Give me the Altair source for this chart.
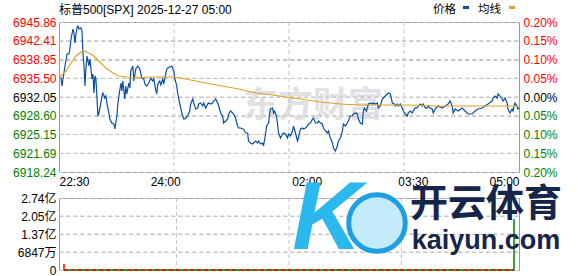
import altair as alt
import pandas as pd

FONT = "Liberation Sans, Noto Sans CJK SC"
CJK = "Noto Sans CJK SC, Liberation Sans"

title_text = "标普500[SPX] 2025-12-27 05:00"
legend_names = ["价格", "均线"]
price_color = "#0b4fa3"
avg_color = "#e0a224"
watermark_text = "东方财富"
brand_cn = "开云体育"
brand_en = "kaiyun.com"
brand_k = "K"

prev_close = 6932.05

price_min = [
    0.0, 1.7, 2.5, 3.4, 5.1, 6.8, 8.5, 9.3, 10.2, 11.8,
    12.7, 13.5, 14.4, 15.2, 16.1, 16.9, 18.6, 19.5, 20.3, 21.2,
    22.0, 22.8, 23.7, 25.4, 26.2, 27.1, 27.9, 28.8, 29.6, 30.5,
    31.3, 32.1, 33.0, 33.8, 35.5, 36.4, 37.2, 38.9, 39.8, 40.6,
    42.3, 43.1, 44.8, 46.5, 47.4, 49.1, 49.9, 50.8, 52.5, 53.3,
    54.1, 55.8, 56.7, 57.5, 59.2, 60.1, 60.9, 62.6, 63.5, 65.1,
    66.8, 68.5, 70.2, 71.9, 72.8, 74.4, 76.1, 77.8, 79.5, 80.4,
    82.1, 82.9, 83.8, 85.4, 86.3, 88.0, 88.8, 90.5, 91.4, 92.2,
    93.9, 95.6, 97.3, 98.1, 99.8, 100.7, 102.4, 103.2, 104.1, 105.8,
    106.6, 107.4, 109.1, 110.8, 111.7, 113.4, 114.2, 115.9, 117.6, 118.4,
    120.1, 121.8, 122.7, 124.4, 126.1, 126.9, 128.6, 130.3, 131.1, 132.8,
    134.5, 135.4, 137.1, 138.7, 139.6, 141.3, 143.0, 143.8, 145.5, 147.2,
    148.1, 149.7, 151.4, 152.3, 154.0, 155.7, 156.5, 158.2, 159.9, 160.7,
    162.4, 164.1, 165.0, 166.7, 168.4, 169.2, 170.9, 172.6, 173.4, 175.1,
    176.0, 177.7, 178.5, 179.4, 181.0, 181.9, 182.7, 184.4, 185.3, 186.1,
    187.8, 188.7, 189.5, 190.4, 192.0, 193.7, 194.6, 196.3, 198.0, 198.8,
    200.5, 202.2, 203.0, 204.7, 206.4, 207.3, 209.0, 210.7, 211.5, 213.2,
    214.9, 215.7, 217.4, 219.1, 220.0, 221.7, 223.3, 224.2, 225.9, 227.6,
    228.4, 230.1, 231.8, 232.7, 234.3, 236.0, 236.9, 238.6, 240.3, 241.1,
    242.8, 244.5, 245.3, 247.0, 248.7, 249.6, 251.3, 253.0, 253.8, 255.5,
    257.2, 258.0, 258.9, 260.6, 261.4, 262.3, 264.0, 265.6, 266.5, 268.2,
    269.9, 270.7, 272.4, 274.1, 275.0, 276.6, 278.3, 279.2, 280.9, 281.7,
    282.6, 284.3, 285.1, 286.8, 287.6, 289.3, 291.0, 291.9, 293.6, 295.3,
    296.1, 297.8, 299.5, 300.3, 302.0, 303.7, 304.6, 306.3, 307.9, 308.8,
    310.5, 312.2, 313.0, 314.7, 316.4, 317.3, 318.9, 321.5, 324.9, 327.4,
    329.9, 331.6, 333.3, 334.2, 335.9, 338.4, 341.8, 344.3, 346.9, 350.2,
    352.8, 355.3, 358.7, 361.2, 363.8, 367.2, 368.0, 369.7, 371.4, 372.2,
    373.9, 375.6, 376.5, 378.2, 379.9, 380.7, 382.4, 384.1, 384.9, 386.6,
    388.3, 389.2, 390.0,
]
price_val = [
    6935.55, 6935.55, 6934.08, 6935.37, 6937.76, 6939.97, 6939.97, 6941.07, 6942.73, 6944.57,
    6943.83, 6941.99, 6943.65, 6944.76, 6945.12, 6944.57, 6944.76, 6944.20, 6940.15, 6937.76,
    6934.08, 6937.21, 6939.60, 6937.76, 6939.05, 6937.21, 6935.37, 6936.29, 6932.79, 6935.92,
    6935.37, 6932.23, 6928.55, 6929.10, 6930.95, 6932.23, 6932.79, 6931.87, 6932.23, 6930.95,
    6929.10, 6928.00, 6927.26, 6927.08, 6926.16, 6928.55, 6930.76, 6932.23, 6934.63, 6933.16,
    6935.00, 6931.68, 6934.08, 6932.60, 6934.63, 6933.71, 6936.84, 6937.76, 6935.00, 6937.21,
    6937.76, 6937.21, 6935.55, 6935.37, 6934.44, 6934.08, 6934.63, 6935.55, 6935.00, 6935.37,
    6933.16, 6932.79, 6934.44, 6935.00, 6934.26, 6935.37, 6934.44, 6936.29, 6937.21, 6937.39,
    6937.57, 6937.76, 6936.84, 6935.55, 6934.08, 6932.60, 6930.76, 6930.03, 6929.10, 6928.00,
    6928.00, 6928.18, 6928.55, 6929.47, 6930.76, 6931.68, 6930.95, 6929.84, 6930.03, 6930.76,
    6930.95, 6930.39, 6930.95, 6930.03, 6930.76, 6930.95, 6930.76, 6930.95, 6931.31, 6931.68,
    6930.95, 6930.39, 6929.10, 6928.55, 6927.26, 6927.63, 6928.00, 6928.92, 6929.47, 6929.10,
    6928.92, 6928.18, 6926.71, 6926.34, 6926.34, 6926.16, 6926.16, 6925.42, 6925.42, 6923.95,
    6923.58, 6923.40, 6923.58, 6923.95, 6923.58, 6923.95, 6923.40, 6923.58, 6923.03, 6925.24,
    6926.71, 6927.26, 6928.92, 6929.84, 6930.03, 6929.10, 6929.47, 6928.55, 6927.08, 6925.42,
    6924.50, 6924.87, 6925.24, 6925.42, 6925.24, 6924.50, 6925.24, 6924.87, 6925.79, 6926.71,
    6925.42, 6923.95, 6924.50, 6926.16, 6926.34, 6926.16, 6926.34, 6926.71, 6927.08, 6927.26,
    6928.00, 6928.18, 6927.26, 6927.26, 6927.63, 6927.26, 6927.08, 6926.34, 6925.79, 6925.42,
    6925.79, 6924.50, 6923.58, 6922.66, 6922.11, 6923.03, 6923.95, 6924.50, 6925.79, 6927.08,
    6926.71, 6927.26, 6927.63, 6928.55, 6928.55, 6928.92, 6929.10, 6928.92, 6928.00, 6927.26,
    6927.08, 6929.47, 6930.03, 6929.47, 6930.03, 6930.76, 6930.95, 6930.76, 6930.95, 6930.76,
    6930.95, 6930.03, 6930.39, 6931.68, 6931.87, 6932.23, 6932.60, 6932.79, 6932.60, 6931.87,
    6930.95, 6930.76, 6930.39, 6930.76, 6930.39, 6930.76, 6930.03, 6929.47, 6928.92, 6928.55,
    6929.10, 6929.47, 6929.10, 6929.47, 6930.03, 6930.03, 6930.39, 6930.76, 6930.39, 6930.76,
    6930.03, 6930.03, 6930.39, 6930.03, 6929.84, 6929.10, 6929.84, 6930.39, 6930.03, 6930.39,
    6930.76, 6931.31, 6930.39, 6929.10, 6929.84, 6929.47, 6930.03, 6929.47, 6928.92, 6928.92,
    6929.47, 6929.84, 6930.03, 6930.39, 6930.76, 6931.31, 6931.87, 6932.23, 6931.87, 6932.60,
    6932.23, 6931.68, 6931.31, 6931.87, 6930.95, 6929.84, 6929.10, 6929.84, 6929.47, 6930.95,
    6930.39, 6929.84, 6930.03,
]

avg_min = [
    0.0, 5.9, 10.2, 14.4, 18.6, 21.2, 25.4, 29.6, 33.8, 39.8,
    45.7, 50.8, 56.7, 62.6, 77.8, 97.3, 103.2, 111.7, 120.1, 128.6,
    138.7, 152.3, 166.7, 181.0, 192.0, 204.7, 221.7, 238.6, 255.5, 296.1,
    318.9, 390.0,
]
avg_val = [
    6935.55, 6936.84, 6938.31, 6939.60, 6940.34, 6940.52, 6940.15, 6939.60, 6938.68, 6937.39,
    6936.47, 6935.92, 6935.73, 6935.55, 6935.73, 6935.73, 6935.55, 6935.18, 6934.81, 6934.44,
    6934.08, 6933.52, 6932.79, 6932.42, 6932.05, 6931.68, 6931.13, 6930.76, 6930.58, 6930.58,
    6930.39, 6930.39,
]
assert len(price_min) == len(price_val)
assert len(avg_min) == len(avg_val)

y_ticks = [6918.24, 6921.69, 6925.15, 6928.60, 6932.05, 6935.50, 6938.95, 6942.41, 6945.86]
pct_ticks = [-0.20, -0.15, -0.10, -0.05, 0.0, 0.05, 0.10, 0.15, 0.20]
x_tick_min = [0, 90, 210, 300, 390]
x_tick_lab = ["22:30", "24:00", "02:00", "03:30", "05:00"]
x_grid_min = [97.5, 195, 292.5]
vol_ticks = [0, 0.6847, 1.3694, 2.0541, 2.7388]
vol_tick_lab = ["0", "6847万", "1.37亿", "2.05亿", "2.74亿"]
vol_min = [0, 390]
vol_val = [0.23, 1.94]
vol_side = ["跌", "涨"]

W, H1, H2 = 460, 150, 72
GRID = "#c4c4c4"
RED = "#ff0000"
GREEN = "#008000"


def lookup_expr(values, labels, tol):
    parts = [f"abs(datum.value - {v}) < {tol} ? '{l}'" for v, l in zip(values, labels)]
    return " : ".join(parts) + " : ''"


XS = alt.Scale(domain=[0, 390], nice=False, zero=False)
YS = alt.Scale(domain=[y_ticks[0], y_ticks[-1]], nice=False, zero=False)
VS = alt.Scale(domain=[0, vol_ticks[-1]], nice=False, zero=False)
PS = alt.Scale(domain=[pct_ticks[0], pct_ticks[-1]], nice=False, zero=False)

# identical axis objects are given to every layer that shares a scale
AX_X = alt.Axis(orient="bottom", values=x_tick_min,
                labelExpr=lookup_expr(x_tick_min, x_tick_lab, 0.5),
                grid=False, ticks=False, domain=False, labelFlush=True, labelPadding=4,
                labelOverlap=False, labelColor="#000000", title=None)
AX_Y = alt.Axis(orient="left", values=y_ticks, format=".2f",
                grid=True, gridColor=GRID, gridDash=[4, 3], gridWidth=1,
                ticks=False, domain=False, labelPadding=3, labelOverlap=False,
                title=None,
                labelColor={"condition": {"test": f"datum.value > {prev_close + 0.05}",
                                          "value": RED},
                            "expr": f"datum.value < {prev_close - 0.05} ? '{GREEN}' : '#000000'"})
AX_P = alt.Axis(orient="right", values=pct_ticks, grid=False, ticks=False, domain=False,
                labelPadding=4, labelOverlap=False, title=None,
                labelExpr="format(abs(datum.value), '.2f') + '%'",
                labelColor={"condition": {"test": "datum.value > 0.001", "value": RED},
                            "expr": f"datum.value < -0.001 ? '{GREEN}' : '#000000'"})
AX_XV = alt.Axis(orient="bottom", labels=False, grid=False, ticks=False, domain=False, title=None)
AX_V = alt.Axis(orient="left", values=vol_ticks,
                labelExpr=lookup_expr(vol_ticks, vol_tick_lab, 0.001),
                grid=True, gridColor=GRID, gridDash=[4, 3], gridWidth=1,
                ticks=False, domain=False,
                labelPadding=3, labelOverlap=False, labelColor="#000000", title=None)


def text_layer(txt, x, y, **kw):
    return alt.Chart(pd.DataFrame({"t": [txt]})).mark_text(baseline="middle", **kw).encode(
        text="t:N", x=alt.value(x), y=alt.value(y))


def vgrid_layer(height, axis):
    # vertical dashed grid lines at the quarter marks, spanning the panel height
    return alt.Chart(pd.DataFrame({"minute": x_grid_min})).mark_rule(
        color=GRID, strokeDash=[4, 3], strokeWidth=1
    ).encode(x=alt.X("minute:Q", scale=XS, axis=axis), y=alt.value(0), y2=alt.value(height))


price_df = pd.DataFrame({"minute": price_min, "price": price_val})
avg_df = pd.DataFrame({"minute": avg_min, "price": avg_val})

# ---------------- price panel ----------------
anchor = alt.Chart(pd.DataFrame({"t": [0]})).mark_rect(opacity=0).encode(
    x=alt.value(-50), x2=alt.value(-49), y=alt.value(-21), y2=alt.value(-20))

watermark = text_layer(watermark_text, 254, 84, font=CJK, fontSize=35, fontWeight="bold",
                       color="#e0e0e5", align="center")

hgrid = alt.Chart(pd.DataFrame({"price": y_ticks[1:-1]})).mark_rule(
    color=GRID, strokeDash=[4, 3], strokeWidth=1
).encode(y=alt.Y("price:Q", scale=YS, axis=AX_Y), x=alt.value(0), x2=alt.value(W))

xgrid = vgrid_layer(H1, AX_X)

price_line = alt.Chart(price_df).mark_line(color=price_color, strokeWidth=1.2).encode(
    x=alt.X("minute:Q", scale=XS, axis=AX_X),
    y=alt.Y("price:Q", scale=YS, axis=AX_Y),
)
avg_line = alt.Chart(avg_df).mark_line(color=avg_color, strokeWidth=1.2).encode(
    x=alt.X("minute:Q", scale=XS, axis=AX_X),
    y=alt.Y("price:Q", scale=YS, axis=AX_Y),
)

title_mark = text_layer(title_text, 0, -12, font=FONT, fontSize=12, color="#000000", align="left")
leg_price = text_layer(legend_names[0], 374, -12, font=CJK, fontSize=11.5, color="#000000",
                       align="left")
leg_avg = text_layer(legend_names[1], 419, -12, font=CJK, fontSize=11.5, color="#000000",
                     align="left")
sw_price = alt.Chart(pd.DataFrame({"t": [legend_names[0]]})).mark_rect(color=price_color).encode(
    x=alt.value(404), x2=alt.value(410), y=alt.value(-16), y2=alt.value(-13))
sw_avg = alt.Chart(pd.DataFrame({"t": [legend_names[1]]})).mark_rect(color=avg_color).encode(
    x=alt.value(450), x2=alt.value(456), y=alt.value(-16), y2=alt.value(-13))

main = alt.layer(anchor, watermark, hgrid, xgrid, price_line, avg_line, title_mark,
                 leg_price, sw_price, leg_avg, sw_avg)

pct_layer = alt.Chart(pd.DataFrame({"pct": pct_ticks})).mark_point(opacity=0, size=1).encode(
    y=alt.Y("pct:Q", scale=PS, axis=AX_P)
)

price_panel = alt.layer(main, pct_layer).resolve_scale(y="independent").properties(
    width=W, height=H1)

# ---------------- volume panel ----------------
vol_df = pd.DataFrame({"minute": vol_min, "vol": vol_val, "side": vol_side})
base_df = pd.DataFrame({"x0": [vol_min[0]], "x1": [vol_min[-1]], "zero": [0.0]})

vhgrid = alt.Chart(pd.DataFrame({"vol": vol_ticks[1:-1]})).mark_rule(
    color=GRID, strokeDash=[4, 3], strokeWidth=1
).encode(y=alt.Y("vol:Q", scale=VS, axis=AX_V), x=alt.value(0), x2=alt.value(W))

vgrid = vgrid_layer(H2, AX_XV)

base_green = alt.Chart(base_df).mark_rule(color=GREEN, strokeWidth=1.5).encode(
    x=alt.X("x0:Q", scale=XS, axis=AX_XV), x2="x1:Q",
    y=alt.Y("zero:Q", scale=VS, axis=AX_V))
base_red = alt.Chart(base_df).mark_rule(color=RED, strokeWidth=1.5, strokeDash=[4, 3]).encode(
    x=alt.X("x0:Q", scale=XS, axis=AX_XV), x2="x1:Q",
    y=alt.Y("zero:Q", scale=VS, axis=AX_V))

bars = alt.Chart(vol_df).mark_bar(width=1.5).encode(
    x=alt.X("minute:Q", scale=XS, axis=AX_XV),
    y=alt.Y("vol:Q", scale=VS, axis=AX_V),
    color=alt.Color("side:N", scale=alt.Scale(domain=vol_side, range=[RED, GREEN]), legend=None),
)

logo_ball = alt.Chart(pd.DataFrame({"t": [brand_k]})).mark_point(
    shape="circle", size=3200, filled=True, fill="#c4ebfa", stroke="#1f9fe3", strokeWidth=5,
    opacity=1
).encode(x=alt.value(318), y=alt.value(25))
logo_k = text_layer(brand_k, 268, 22, font="Liberation Sans", fontSize=96, fontWeight="bold",
                    fontStyle="italic", color="#2bb8ee", align="center")
brand1 = text_layer(brand_cn, 427, 7, font=CJK, fontSize=38, fontWeight="bold",
                    color="#16254a", align="center")
brand2 = text_layer(brand_en, 427, 43, font="Liberation Sans", fontSize=27, fontWeight="bold",
                    color="#16254a", align="center")

vol_panel = alt.layer(vhgrid, vgrid, base_green, base_red, bars, logo_k, logo_ball,
                      brand1, brand2).properties(width=W, height=H2)

chart = alt.vconcat(price_panel, vol_panel, spacing=26, bounds="flush").properties(
    padding={"left": 8, "top": 0, "right": 5, "bottom": 2}
).configure_view(stroke="#999999", strokeWidth=1).configure_axis(
    labelFont=FONT, labelFontSize=12
)

chart.save("out.html", embed_options={"renderer": "svg", "actions": False})
